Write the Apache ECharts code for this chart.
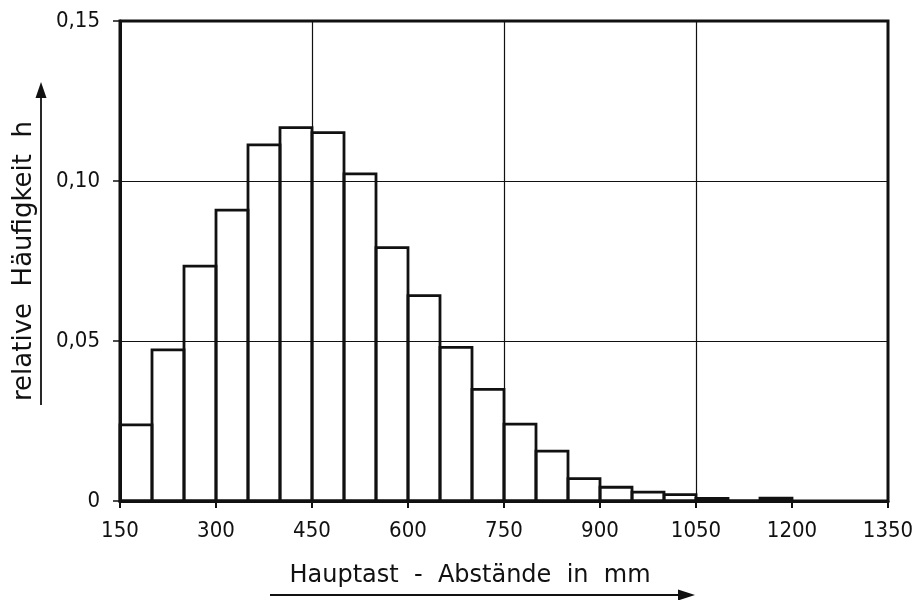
<!DOCTYPE html>
<html>
<head>
<meta charset="utf-8">
<script src="https://cdn.jsdelivr.net/npm/echarts@6/dist/echarts.min.js"></script>
<style>
  html, body { margin: 0; padding: 0; background: #fff; }
  #chart { width: 920px; height: 600px; }
</style>
</head>
<body>
<div id="chart"></div>
<script>
// lower edge of each 50 mm class
var binStart = [150, 200, 250, 300, 350, 400, 450, 500, 550, 600, 650, 700, 750,
                800, 850, 900, 950, 1000, 1050, 1100, 1150];
var binWidth = 50;
// relative Häufigkeit h per class
var relFreq = [0.0238, 0.0472, 0.0734, 0.0909, 0.1113, 0.1167, 0.1151, 0.1022, 0.0792,
               0.0642, 0.0480, 0.0349, 0.0240, 0.0156, 0.0070, 0.0043, 0.0028, 0.0020,
               0.0008, 0, 0.0009];
var xGridLines = [450, 750, 1050];
var xTitle = 'Hauptast  -  Abstände  in  mm';
var yTitle = 'relative  Häufigkeit  h';

var font = '"DejaVu Sans Condensed", "DejaVu Sans", sans-serif';
var titleFont = '"DejaVu Sans", sans-serif';
var ink = '#111';

var histData = binStart.map(function (s, i) {
    return [s, s + binWidth, relFreq[i]];
});

var chartDom = document.getElementById('chart');
var myChart = echarts.init(chartDom);

var option = {
    backgroundColor: '#fff',
    animation: false,
    grid: {
        left: 120,
        top: 21,
        width: 768,
        height: 480,
        show: true,
        borderColor: ink,
        borderWidth: 3,
        backgroundColor: 'transparent'
    },
    xAxis: {
        type: 'value',
        min: 150,
        max: 1350,
        interval: 150,
        axisLine: { show: true, lineStyle: { color: ink, width: 3 } },
        axisTick: { show: true, length: 7, lineStyle: { color: ink, width: 2 } },
        splitLine: { show: false },
        axisLabel: {
            color: ink,
            fontFamily: font,
            fontSize: 22,
            margin: 19,
            formatter: function (v) { return String(v); }
        }
    },
    yAxis: {
        type: 'value',
        min: 0,
        max: 0.15,
        interval: 0.05,
        axisLine: { show: true, lineStyle: { color: ink, width: 3 } },
        axisTick: { show: true, length: 7, lineStyle: { color: ink, width: 1.5 } },
        splitLine: { show: true, lineStyle: { color: ink, width: 1.2 } },
        axisLabel: {
            color: ink,
            fontFamily: font,
            fontSize: 22,
            margin: 20,
            formatter: function (v) {
                return v === 0 ? '0' : v.toFixed(2).replace('.', ',');
            }
        }
    },
    series: [
        {
            type: 'custom',
            data: histData,
            encode: { x: [0, 1], y: 2 },
            renderItem: function (params, api) {
                var topLeft = api.coord([api.value(0), api.value(2)]);
                var bottomRight = api.coord([api.value(1), 0]);
                return {
                    type: 'rect',
                    shape: {
                        x: topLeft[0],
                        y: topLeft[1],
                        width: bottomRight[0] - topLeft[0],
                        height: bottomRight[1] - topLeft[1]
                    },
                    style: { fill: 'none', stroke: ink, lineWidth: 2.8 }
                };
            },
            markLine: {
                silent: true,
                symbol: 'none',
                label: { show: false },
                lineStyle: { color: ink, width: 1.2, type: 'solid' },
                data: xGridLines.map(function (x) { return { xAxis: x }; })
            }
        }
    ],
    graphic: [
        {
            type: 'text',
            x: 24,
            y: 261,
            rotation: Math.PI / 2,
            style: {
                text: yTitle,
                fill: ink,
                font: '26px ' + titleFont,
                textAlign: 'center',
                textVerticalAlign: 'middle'
            }
        },
        {
            type: 'line',
            shape: { x1: 41, y1: 405, x2: 41, y2: 95 },
            style: { stroke: ink, lineWidth: 1.8 }
        },
        {
            type: 'polygon',
            shape: { points: [[41, 82], [35.5, 98], [46.5, 98]] },
            style: { fill: ink }
        },
        {
            type: 'text',
            x: 470,
            y: 576,
            style: {
                text: xTitle,
                fill: ink,
                font: '24px ' + titleFont,
                textAlign: 'center',
                textVerticalAlign: 'middle'
            }
        },
        {
            type: 'line',
            shape: { x1: 270, y1: 595, x2: 682, y2: 595 },
            style: { stroke: ink, lineWidth: 1.8 }
        },
        {
            type: 'polygon',
            shape: { points: [[695, 595], [678, 589.5], [678, 600.5]] },
            style: { fill: ink }
        }
    ]
};
myChart.setOption(option);
</script>
</body>
</html>
